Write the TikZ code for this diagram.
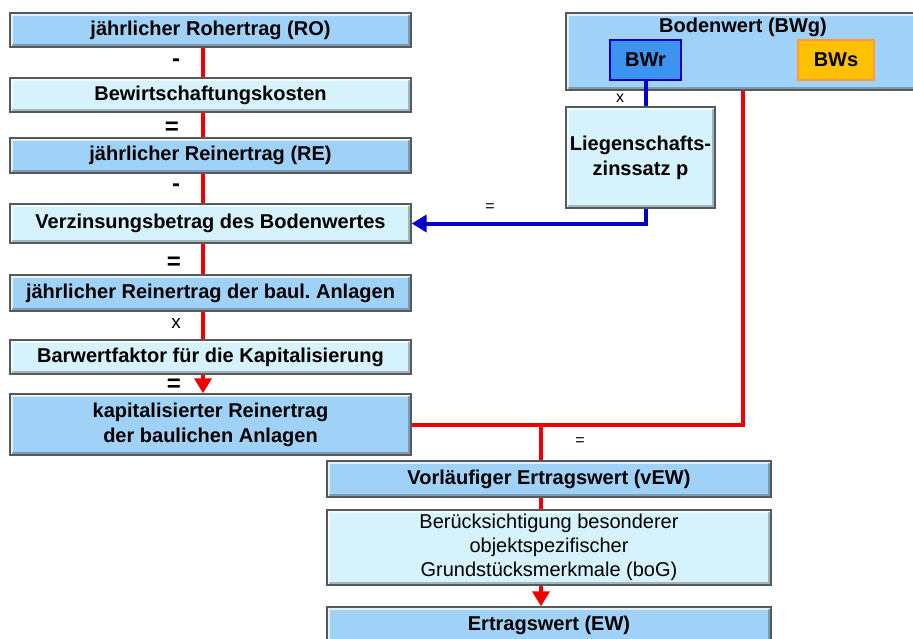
\documentclass[tikz,border=0pt]{standalone}
\usepackage{fontspec}
\setmainfont{Liberation Sans}
\usetikzlibrary{arrows.meta}
\frenchspacing

\definecolor{boxmid}{HTML}{A0D2F8}
\definecolor{boxlight}{HTML}{D6F2FC}
\definecolor{bwrblue}{HTML}{3C94F0}
\definecolor{bwsorange}{HTML}{FFC000}
\definecolor{flowred}{HTML}{EE0000}
\definecolor{flowblue}{HTML}{0000C8}

\tikzset{
  box/.style={draw=black!65, line width=1.4pt, inner sep=0pt, align=center,
    font=\fontsize{20}{25}\selectfont\bfseries},
  bevel/.style={path picture={
      \draw[white, opacity=.7, line width=2.5pt]
        ([shift={(1.5pt,1.5pt)}]path picture bounding box.south west)
        |- ([shift={(-1.5pt,-1.5pt)}]path picture bounding box.north east);
      \draw[black, opacity=.25, line width=2.5pt]
        ([shift={(1.5pt,1.5pt)}]path picture bounding box.south west)
        -| ([shift={(-1.5pt,-1.5pt)}]path picture bounding box.north east);}},
  midbox/.style={box, bevel, fill=boxmid},
  lightbox/.style={box, bevel, fill=boxlight},
  op/.style={font=\fontsize{24}{24}\selectfont\bfseries, inner sep=0pt},
  smallop/.style={font=\fontsize{16}{16}\selectfont, inner sep=0pt},
  redline/.style={flowred, line width=4pt},
  blueline/.style={flowblue, line width=4pt},
  tip/.style={-{Triangle[width=17pt,length=15pt]}}
}

\begin{document}
\begin{tikzpicture}[x=1pt,y=-1pt]
  \useasboundingbox (0,0) rectangle (913,638);
  \clip (0,0) rectangle (913,638);

  % linke Spalte
  \node[midbox,   minimum width=401pt, minimum height=34pt] (ro)   at (210.5,30)    {jährlicher Rohertrag (RO)};
  \node[lightbox, minimum width=401pt, minimum height=34pt] (bwk)  at (210.5,95)    {Bewirtschaftungskosten};
  \node[midbox,   minimum width=401pt, minimum height=35pt] (re)   at (210.5,155.5) {jährlicher Reinertrag (RE)};
  \node[lightbox, minimum width=401pt, minimum height=39pt] (verz) at (210.5,223.5) {Verzinsungsbetrag des Bodenwertes};
  \node[midbox,   minimum width=401pt, minimum height=36pt] (baul) at (210.5,293)   {jährlicher Reinertrag der baul. Anlagen};
  \node[lightbox, minimum width=401pt, minimum height=34pt] (bwf)  at (210.5,357)   {Barwertfaktor für die Kapitalisierung};
  \node[midbox,   minimum width=401pt, minimum height=61pt] (kap)  at (210.5,424.5) {kapitalisierter Reinertrag\\der baulichen Anlagen};

  % Bodenwert
  \node[midbox, minimum width=354pt, minimum height=77pt] (bwg) at (743,51.5) {};
  \node[font=\fontsize{20}{24}\selectfont\bfseries, inner sep=0pt] (bwgtitle) at (743,27) {Bodenwert (BWg)};
  \node[box, draw=flowblue, fill=bwrblue, minimum width=71pt, minimum height=40pt] (bwr) at (645.5,60) {BWr};
  \node[box, draw=orange!80, fill=bwsorange, minimum width=76pt, minimum height=40pt] (bws) at (836,60) {BWs};
  \node[lightbox, minimum width=149pt, minimum height=101pt] (lzs) at (640.5,157.5) {Liegenschafts-\\zinssatz p};

  % unten
  \node[midbox,   minimum width=444pt, minimum height=36pt] (vew) at (549,479)   {Vorläufiger Ertragswert (vEW)};
  \node[lightbox, minimum width=444pt, minimum height=75pt, font=\fontsize{20}{24}\selectfont] (bog) at (549,547.5) {Berücksichtigung besonderer\\objektspezifischer\\Grundstücksmerkmale (boG)};
  \node[midbox,   minimum width=444pt, minimum height=36pt] (ew)  at (549,625)   {Ertragswert (EW)};

  \coordinate (spine) at (203,0);
  \coordinate (join) at (541,425);

  \foreach \a/\b in {ro/bwk,bwk/re,re/verz,verz/baul,baul/bwf}
    \draw[redline] (\a.south -| spine) -- (\b.north -| spine);
  \draw[redline, tip] (bwf.south -| spine) -- (kap.north -| spine);

  \draw[redline] (bwg.south) |- (kap.east);
  \draw[redline] (join) -- (vew.north -| join);
  \draw[redline] (vew.south -| join) -- (bog.north -| join);
  \draw[redline, tip] (bog.south -| join) -- (ew.north -| join);

  \draw[blueline] (bwr.south) -- (lzs.north -| bwr);
  \draw[blueline, tip] (lzs.south -| bwr) |- (verz.east);

  % Operatoren
  \node[op] (op1) at (176,63)  {-};
  \node[op] (op2) at (172,128) {=};
  \node[op] (op3) at (176,188) {-};
  \node[op] (op4) at (174,263) {=};
  \node[smallop, font=\fontsize{19}{19}\selectfont] (op5) at (176,323) {x};
  \node[op] (op6) at (174,385) {=};
  \node[smallop] (op7) at (620,98)  {x};
  \node[smallop] (op8) at (490,208) {=};
  \node[smallop] (op9) at (580,442) {=};
\end{tikzpicture}
\end{document}
